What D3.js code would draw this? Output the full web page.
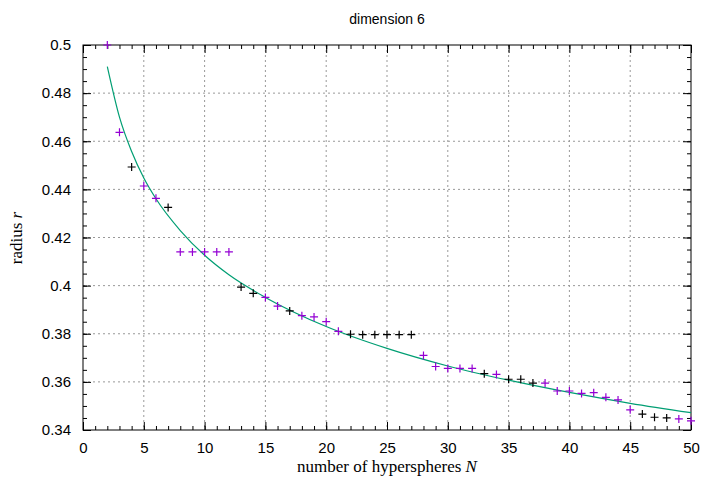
<!DOCTYPE html>
<html>
<head>
  <script src="https://cdn.jsdelivr.net/npm/d3@7"></script>
  <style>body{margin:0;background:#fff}</style>
</head>
<body>
  <svg width="720" height="480" id="mainsvg"></svg>
  <script>
    // measured points (N, radius)
    const nValues = [2,3,4,5,6,7,8,9,10,11,12,13,14,15,16,17,18,19,20,21,22,23,24,25,26,27,28,29,30,31,32,33,34,35,36,37,38,39,40,41,42,43,44,45,46,47,48,49,50];
    const rValues = [0.5,0.4637,0.4493,0.4414,0.4363,0.4325,0.414,0.414,0.414,0.414,0.414,0.3994,0.3968,0.3951,0.3915,0.3895,0.3875,0.387,0.385,0.381,0.3798,0.3796,0.3796,0.3796,0.3796,0.3796,0.371,0.3664,0.3656,0.3656,0.3656,0.3634,0.3631,0.3611,0.3611,0.3595,0.3595,0.3562,0.3562,0.3552,0.3555,0.3536,0.3525,0.3484,0.3466,0.3453,0.345,0.3446,0.3438];
    const blackN = [4,7,13,14,17,22,23,24,25,26,27,33,35,36,37,46,47,48];
    // fitted curve
    const fitN = [2,3,4,5,6,8,10,12,15,20,25,30,35,40,45,50];
    const fitR = [0.491,0.470,0.4557,0.4447,0.4361,0.4229,0.4126,0.4045,0.3951,0.3830,0.3739,0.3666,0.3607,0.3556,0.3511,0.3472];
    const xTicks = [0,5,10,15,20,25,30,35,40,45,50];
    const yTicks = [0.34,0.36,0.38,0.4,0.42,0.44,0.46,0.48,0.5];

    const svg = d3.select('#mainsvg');
    const margin = { top: 45, right: 29, bottom: 50, left: 83 };
    const innerWidth = 720 - margin.left - margin.right;
    const innerHeight = 480 - margin.top - margin.bottom;
    const g = svg.append('g').attr('transform', `translate(${margin.left}, ${margin.top})`);

    const xScale = d3.scaleLinear().domain([0, 50]).range([0, innerWidth]);
    const yScale = d3.scaleLinear().domain([0.34, 0.5]).range([innerHeight, 0]);

    // grid
    g.append('g').selectAll('line').data(xTicks.slice(1, -1)).join('line')
      .attr('x1', d => xScale(d)).attr('x2', d => xScale(d))
      .attr('y1', 0).attr('y2', innerHeight)
      .attr('stroke', '#999').attr('stroke-dasharray', '2,3');
    g.append('g').selectAll('line').data(yTicks.slice(1, -1)).join('line')
      .attr('y1', d => yScale(d)).attr('y2', d => yScale(d))
      .attr('x1', 0).attr('x2', innerWidth)
      .attr('stroke', '#999').attr('stroke-dasharray', '2,3');

    // axes with inward ticks, mirrored
    const fmt = d => d3.format('')(+d.toFixed(2));
    const addAxis = (axis, tr, labels) => {
      const a = g.append('g').attr('transform', tr).call(axis);
      a.select('.domain').remove();
      a.selectAll('text').attr('font-family', 'Liberation Sans, Arial').attr('font-size', 15).attr('fill', '#000');
      if (!labels) a.selectAll('text').remove();
      return a;
    };
    const minorX = d3.range(0, 51, 1), minorY = d3.range(0, 33).map(i => 0.34 + i * 0.005);
    addAxis(d3.axisBottom(xScale).tickValues(xTicks).tickSize(-8).tickPadding(12).tickFormat(fmt), `translate(0,${innerHeight})`, true);
    addAxis(d3.axisBottom(xScale).tickValues(minorX).tickSize(-4).tickFormat(''), `translate(0,${innerHeight})`, false);
    addAxis(d3.axisTop(xScale).tickValues(xTicks).tickSize(-8), 'translate(0,0)', false);
    addAxis(d3.axisTop(xScale).tickValues(minorX).tickSize(-4), 'translate(0,0)', false);
    addAxis(d3.axisLeft(yScale).tickValues(yTicks).tickSize(-8).tickPadding(12).tickFormat(fmt), 'translate(0,0)', true);
    addAxis(d3.axisLeft(yScale).tickValues(minorY).tickSize(-4).tickFormat(''), 'translate(0,0)', false);
    addAxis(d3.axisRight(yScale).tickValues(yTicks).tickSize(-8), `translate(${innerWidth},0)`, false);
    addAxis(d3.axisRight(yScale).tickValues(minorY).tickSize(-4), `translate(${innerWidth},0)`, false);
    g.selectAll('.tick line').attr('stroke', '#000');

    g.append('rect').attr('width', innerWidth).attr('height', innerHeight)
      .attr('fill', 'none').attr('stroke', '#000').attr('stroke-width', 1);

    // fit line
    const line = d3.line().x((d, i) => xScale(d)).y((d, i) => yScale(fitR[i])).curve(d3.curveMonotoneX);
    g.append('path').attr('d', line(fitN)).attr('fill', 'none').attr('stroke', '#009e73').attr('stroke-width', 1.2);

    // points
    const pts = nValues.map((n, i) => ({ n, r: rValues[i] }));
    g.append('g').selectAll('path').data(pts).join('path')
      .attr('d', d => { const x = xScale(d.n), y = yScale(d.r); return `M${x-4},${y}H${x+4}M${x},${y-4}V${y+4}`; })
      .attr('stroke', d => blackN.includes(d.n) ? '#000' : '#9400d3').attr('stroke-width', 1.2);

    svg.append('text').attr('x', 387).attr('y', 24).attr('text-anchor', 'middle')
      .attr('font-family', 'Liberation Sans, Arial').attr('font-size', 14).text('dimension 6');
    const xl = svg.append('text').attr('x', 387).attr('y', 472).attr('text-anchor', 'middle')
      .attr('font-family', 'Liberation Serif, Times New Roman').attr('font-size', 17).text('number of hyperspheres ');
    xl.append('tspan').attr('font-style', 'italic').text('N');
    const yl = svg.append('text').attr('transform', 'translate(22,238) rotate(-90)').attr('text-anchor', 'middle')
      .attr('font-family', 'Liberation Serif, Times New Roman').attr('font-size', 17).text('radius  ');
    yl.append('tspan').attr('font-style', 'italic').text('r');
  </script>
</body>
</html>
